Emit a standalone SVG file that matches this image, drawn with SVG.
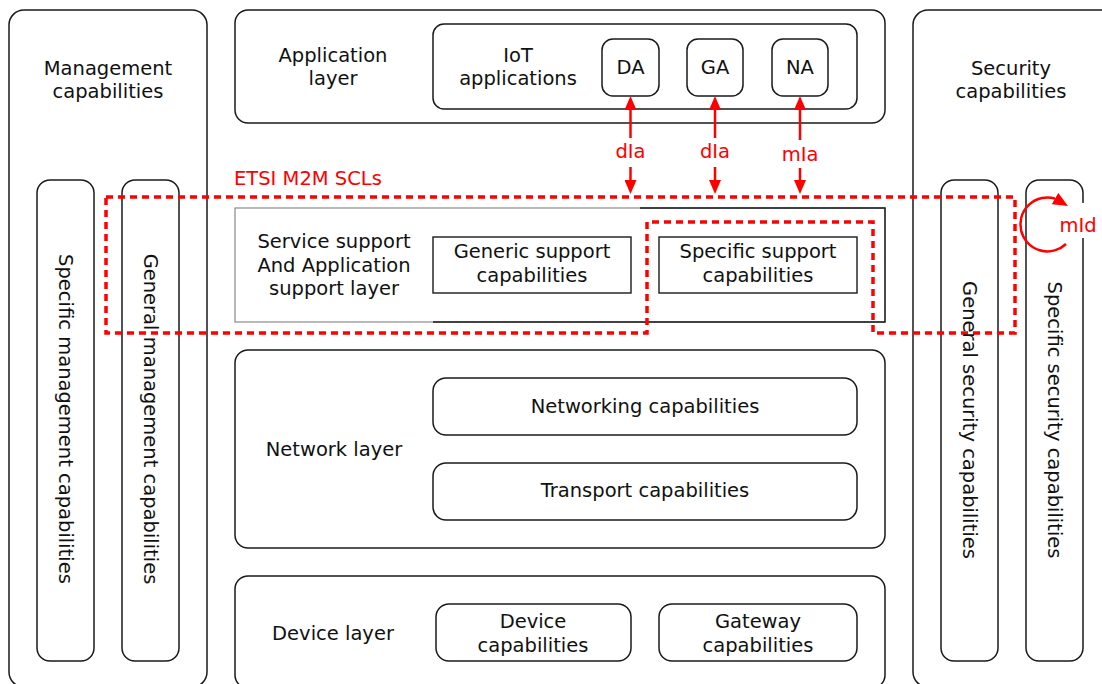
<svg xmlns="http://www.w3.org/2000/svg" width="1102" height="684" viewBox="0 0 1102 684">
  <defs>
    <style>
      .box { fill: none; stroke: #1a1a1a; stroke-width: 1.5; }
      .sq { fill: none; stroke: #1a1a1a; stroke-width: 1.4; }
      .lbl { font-family: "DejaVu Sans", Verdana, sans-serif; font-size: 19.5px; fill: #111; text-anchor: middle; }
      .red { font-family: "DejaVu Sans", Verdana, sans-serif; font-size: 19.5px; fill: #ff0000; text-anchor: middle; }
      .vert { dominant-baseline: central; }
      .link { fill: none; stroke: #ff0000; stroke-width: 2.5; }
      .scl { fill: none; stroke: #ff0000; stroke-width: 3.5; stroke-dasharray: 7 5; }
    </style>
    <marker id="head" markerUnits="userSpaceOnUse" markerWidth="14" markerHeight="12" refX="0" refY="6" orient="auto">
      <path d="M0,0 L14,6 L0,12 z" fill="#ff0000"/>
    </marker>
    <marker id="head-loop" markerUnits="userSpaceOnUse" markerWidth="15" markerHeight="13" refX="0" refY="6.5" orient="30">
      <path d="M0,0 L15,6.5 L0,13 z" fill="#ff0000"/>
    </marker>
  </defs>

  <rect width="1102" height="684" fill="#ffffff"/>

  <!-- Management capabilities column -->
  <g id="management">
    <rect class="box" x="9" y="10" width="198" height="677" rx="15"/>
    <text class="lbl" x="108" y="75">Management</text>
    <text class="lbl" x="108" y="98">capabilities</text>
  </g>
  <g id="specific-management">
    <rect class="box" x="37" y="180" width="57" height="481" rx="13"/>
  </g>
  <g id="general-management">
    <rect class="box" x="122" y="180" width="57" height="481" rx="13"/>
  </g>

  <!-- Security capabilities column -->
  <g id="security">
    <rect class="box" x="913" y="10" width="210" height="677" rx="15"/>
    <text class="lbl" x="1011" y="75">Security</text>
    <text class="lbl" x="1011" y="98">capabilities</text>
  </g>
  <g id="general-security">
    <rect class="box" x="941" y="180" width="57" height="481" rx="13"/>
  </g>
  <g id="specific-security">
    <rect class="box" x="1026" y="180" width="57" height="481" rx="13"/>
  </g>

  <!-- Application layer -->
  <g id="application-layer">
    <rect class="box" x="235" y="10" width="650" height="113" rx="13"/>
    <text class="lbl" x="333" y="62">Application</text>
    <text class="lbl" x="333" y="85">layer</text>
  </g>
  <g id="iot-applications">
    <rect class="box" x="433" y="24" width="424" height="85" rx="11"/>
    <text class="lbl" x="518" y="62">IoT</text>
    <text class="lbl" x="518" y="85">applications</text>
  </g>
  <g id="da">
    <rect class="box" x="602" y="39" width="57" height="57" rx="11"/>
    <text class="lbl" x="630.5" y="74">DA</text>
  </g>
  <g id="ga">
    <rect class="box" x="687" y="39" width="56" height="57" rx="11"/>
    <text class="lbl" x="715" y="74">GA</text>
  </g>
  <g id="na">
    <rect class="box" x="772" y="39" width="56" height="57" rx="11"/>
    <text class="lbl" x="800" y="74">NA</text>
  </g>

  <!-- Service support and application support layer -->
  <g id="service-support-layer">
    <rect x="235" y="208" width="650" height="114" fill="none" stroke="#8a8a8a" stroke-width="1.2"/>
    <path d="M433,322 H885 V208 H640" fill="none" stroke="#1a1a1a" stroke-width="1.4"/>
    <text class="lbl" x="334" y="248">Service support</text>
    <text class="lbl" x="334" y="272">And Application</text>
    <text class="lbl" x="334" y="295">support layer</text>
  </g>
  <g id="generic-support">
    <rect class="sq" x="433" y="237" width="198" height="56"/>
    <text class="lbl" x="532" y="258">Generic support</text>
    <text class="lbl" x="532" y="282">capabilities</text>
  </g>
  <g id="specific-support">
    <rect class="sq" x="659" y="237" width="198" height="56"/>
    <text class="lbl" x="758" y="258">Specific support</text>
    <text class="lbl" x="758" y="282">capabilities</text>
  </g>

  <!-- Network layer -->
  <g id="network-layer">
    <rect class="box" x="235" y="350" width="650" height="198" rx="13"/>
    <text class="lbl" x="334" y="456">Network layer</text>
  </g>
  <g id="networking">
    <rect class="box" x="433" y="378" width="424" height="57" rx="13"/>
    <text class="lbl" x="645" y="413">Networking capabilities</text>
  </g>
  <g id="transport">
    <rect class="box" x="433" y="463" width="424" height="57" rx="13"/>
    <text class="lbl" x="645" y="497">Transport capabilities</text>
  </g>

  <!-- Device layer -->
  <g id="device-layer">
    <rect class="box" x="235" y="576" width="650" height="112" rx="13"/>
    <text class="lbl" x="333" y="640">Device layer</text>
  </g>
  <g id="device-cap">
    <rect class="box" x="436" y="604" width="195" height="57" rx="13"/>
    <text class="lbl" x="533" y="628">Device</text>
    <text class="lbl" x="533" y="652">capabilities</text>
  </g>
  <g id="gateway-cap">
    <rect class="box" x="659" y="604" width="198" height="57" rx="13"/>
    <text class="lbl" x="758" y="628">Gateway</text>
    <text class="lbl" x="758" y="652">capabilities</text>
  </g>

  <!-- ETSI M2M service capability layer boundary -->
  <g id="etsi-scl">
    <path class="scl" d="M106,197 H1015 V333 H873 V222 H647 V333 H106 Z"/>
    <text class="red" x="234" y="185" style="text-anchor:start">ETSI M2M SCLs</text>
  </g>

  <!-- Vertical column labels -->
  <g id="column-labels">
    <text class="lbl vert" transform="translate(65.5,419) rotate(90)">Specific management capabilities</text>
    <text class="lbl vert" transform="translate(150.5,419) rotate(90)">General management capabilities</text>
    <text class="lbl vert" transform="translate(969.5,420) rotate(90)">General security capabilities</text>
    <text class="lbl vert" transform="translate(1054.5,420) rotate(90)">Specific security capabilities</text>
  </g>

  <!-- Reference points -->
  <g id="connectors">
    <g id="dIa-da">
      <path class="link" d="M630.5,138 V110" marker-end="url(#head)"/>
      <path class="link" d="M630.5,167 V180" marker-end="url(#head)"/>
      <text class="red" x="630.5" y="158">dIa</text>
    </g>
    <g id="dIa-ga">
      <path class="link" d="M715,138 V110" marker-end="url(#head)"/>
      <path class="link" d="M715,167 V180" marker-end="url(#head)"/>
      <text class="red" x="715" y="158">dIa</text>
    </g>
    <g id="mIa-na">
      <path class="link" d="M800,140 V110" marker-end="url(#head)"/>
      <path class="link" d="M800,168 V180" marker-end="url(#head)"/>
      <text class="red" x="800" y="161">mIa</text>
    </g>
    <g id="mId">
      <rect x="1076" y="203" width="12" height="35" fill="#ffffff"/>
      <path class="link" d="M1066,244 A27,27 0 1 1 1055,198.5" marker-end="url(#head-loop)"/>
      <text class="red" x="1078" y="232">mId</text>
    </g>
  </g>
</svg>
